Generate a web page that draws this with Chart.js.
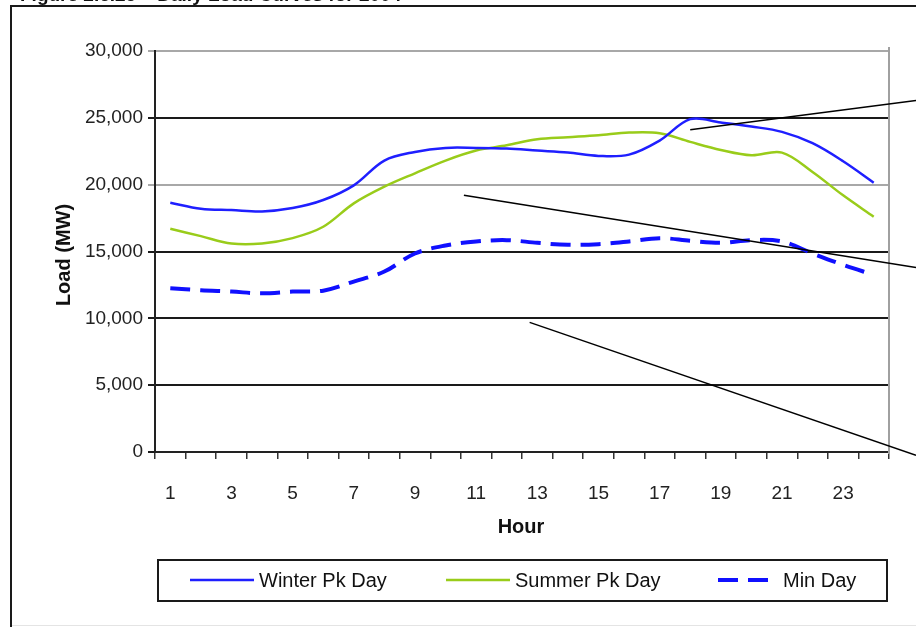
<!DOCTYPE html>
<html>
<head>
<meta charset="utf-8">
<title>Daily Load Curves</title>
<script src="https://cdn.jsdelivr.net/npm/chart.js@4.4.0/dist/chart.umd.min.js"></script>
<style>
  html, body { margin: 0; padding: 0; background: #fff; }
  #wrap { width: 916px; height: 627px; }
</style>
</head>
<body>
<div id="wrap"><canvas id="loadChart" width="916" height="627"></canvas></div>
<script>
// Hourly load profiles (MW)
const hours = ['1', '2', '3', '4', '5', '6', '7', '8', '9', '10', '11', '12',
    '13', '14', '15', '16', '17', '18', '19', '20', '21', '22', '23', '24'];
const winterPk = [18650, 18200, 18100, 18000, 18250, 18850, 19950, 21800, 22450, 22750, 22750, 22700,
    22550, 22400, 22150, 22250, 23300, 24900, 24650, 24350, 23950, 23100, 21750, 20150];
const summerPk = [16700, 16150, 15600, 15600, 16000, 16850, 18600, 19850, 20850, 21800, 22550, 22950,
    23400, 23550, 23700, 23900, 23850, 23200, 22600, 22200, 22400, 20950, 19200, 17600];
const minDay = [12250, 12100, 12000, 11870, 12000, 12070, 12750, 13500, 14850, 15450, 15750, 15850,
    15650, 15500, 15550, 15750, 16000, 15800, 15650, 15850, 15750, 14850, 14000, 13250];
const seriesNames = ['Winter Pk Day', 'Summer Pk Day', 'Min Day'];
const yTicks = [0, 5000, 10000, 15000, 20000, 25000, 30000];

// Callout leader lines: start at [hour index, MW], run off the right edge at MW
const calloutFrom = [[17, 24100], [9.6, 19200], [11.75, 9700]];
const calloutTo = [26300, 13800, -250];

const figTitle = 'Figure 2.6.25 \u2013 Daily Load Curves for 2004';
const FONT = '"Liberation Sans", Arial, sans-serif';

const decorations = {
    id: 'decorations',
    beforeDraw(chart) {
        const ctx = chart.ctx;
        ctx.save();
        ctx.fillStyle = '#fff';
        ctx.fillRect(0, 0, chart.width, chart.height);

        // page frame
        ctx.strokeStyle = '#1a1a1a';
        ctx.lineWidth = 2;
        ctx.beginPath();
        ctx.moveTo(11, chart.height);
        ctx.lineTo(11, 6);
        ctx.lineTo(chart.width, 6);
        ctx.stroke();
        ctx.strokeStyle = '#e4e4e4';
        ctx.lineWidth = 1;
        ctx.beginPath();
        ctx.moveTo(12, 625.5);
        ctx.lineTo(chart.width, 625.5);
        ctx.stroke();

        // figure caption, mostly above the page edge
        ctx.font = 'bold 19px ' + FONT;
        ctx.fillStyle = '#111';
        ctx.textBaseline = 'alphabetic';
        ctx.fillText(figTitle, 20, 1);
        ctx.restore();
    },
    afterDraw(chart) {
        const { ctx, chartArea: a, scales: { x, y } } = chart;
        ctx.save();

        // right edge of plot area
        ctx.strokeStyle = '#a0a0a0';
        ctx.lineWidth = 2;
        ctx.beginPath();
        ctx.moveTo(a.right, y.getPixelForValue(30000) - 4);
        ctx.lineTo(a.right, a.bottom + 2);
        ctx.stroke();

        // axis titles
        ctx.fillStyle = '#111';
        ctx.font = 'bold 20px ' + FONT;
        ctx.textAlign = 'center';
        ctx.textBaseline = 'middle';
        ctx.fillText('Hour', (a.left + a.right) / 2 - 1, 527);
        ctx.save();
        ctx.translate(64, 255);
        ctx.rotate(-Math.PI / 2);
        ctx.fillText('Load (MW)', 0, 0);
        ctx.restore();

        // callout leader lines
        ctx.strokeStyle = '#000';
        ctx.lineWidth = 1.5;
        calloutFrom.forEach(([h, v], i) => {
            ctx.beginPath();
            ctx.moveTo(x.getPixelForValue(h), y.getPixelForValue(v));
            ctx.lineTo(chart.width, y.getPixelForValue(calloutTo[i]));
            ctx.stroke();
        });

        // legend box
        ctx.strokeStyle = '#1a1a1a';
        ctx.lineWidth = 2;
        ctx.strokeRect(158, 560, 729, 41);
        const slots = [[190, 64], [446, 64], [718, 60]];
        ctx.font = '20px ' + FONT;
        ctx.textAlign = 'left';
        ctx.fillStyle = '#111';
        chart.data.datasets.forEach((ds, i) => {
            const [sx, len] = slots[i];
            ctx.strokeStyle = ds.borderColor;
            ctx.lineWidth = ds.borderWidth;
            ctx.setLineDash(ds.borderDash || []);
            ctx.beginPath();
            ctx.moveTo(sx, 580);
            ctx.lineTo(sx + len, 580);
            ctx.stroke();
            ctx.setLineDash([]);
            ctx.fillText(ds.label, sx + len + 5, 581);
        });
        ctx.restore();
    }
};

new Chart(document.getElementById('loadChart'), {
    type: 'line',
    data: {
        labels: hours,
        datasets: [
            { label: seriesNames[0], data: winterPk, borderColor: '#1f1fff', borderWidth: 2.5, borderDash: [] },
            { label: seriesNames[1], data: summerPk, borderColor: '#99cc1a', borderWidth: 2.5, borderDash: [] },
            { label: seriesNames[2], data: minDay, borderColor: '#1010ff', borderWidth: 4, borderDash: [20, 10] }
        ]
    },
    options: {
        responsive: false,
        animation: false,
        layout: { padding: { left: 0, right: 27, top: 51, bottom: 0 } },
        elements: { point: { radius: 0 }, line: { tension: 0.35 } },
        plugins: { legend: { display: false }, tooltip: { enabled: false } },
        scales: {
            x: {
                offset: true,
                grid: { offset: true, drawOnChartArea: false, tickLength: 7, color: '#333', lineWidth: 1.5 },
                border: { display: true, color: '#222', width: 2 },
                ticks: {
                    autoSkip: false,
                    maxRotation: 0,
                    padding: 23,
                    color: '#222',
                    font: { family: FONT, size: 19 },
                    callback: (v, i) => (i % 2 === 0 ? hours[i] : '')
                },
                afterFit: s => { s.height = 175; }
            },
            y: {
                min: 0,
                max: 30000,
                afterBuildTicks: s => { s.ticks = yTicks.map(v => ({ value: v })); },
                grid: {
                    tickLength: 7,
                    lineWidth: 2,
                    color: c => (c.tick && (c.tick.value === 30000 || c.tick.value === 20000) ? '#a8a8a8' : '#1a1a1a')
                },
                border: { display: true, color: '#222', width: 2 },
                ticks: {
                    padding: 5,
                    color: '#222',
                    font: { family: FONT, size: 19 },
                    callback: v => v.toLocaleString('en-US')
                },
                afterFit: s => { s.width = 155; }
            }
        }
    },
    plugins: [decorations]
});
</script>
</body>
</html>
